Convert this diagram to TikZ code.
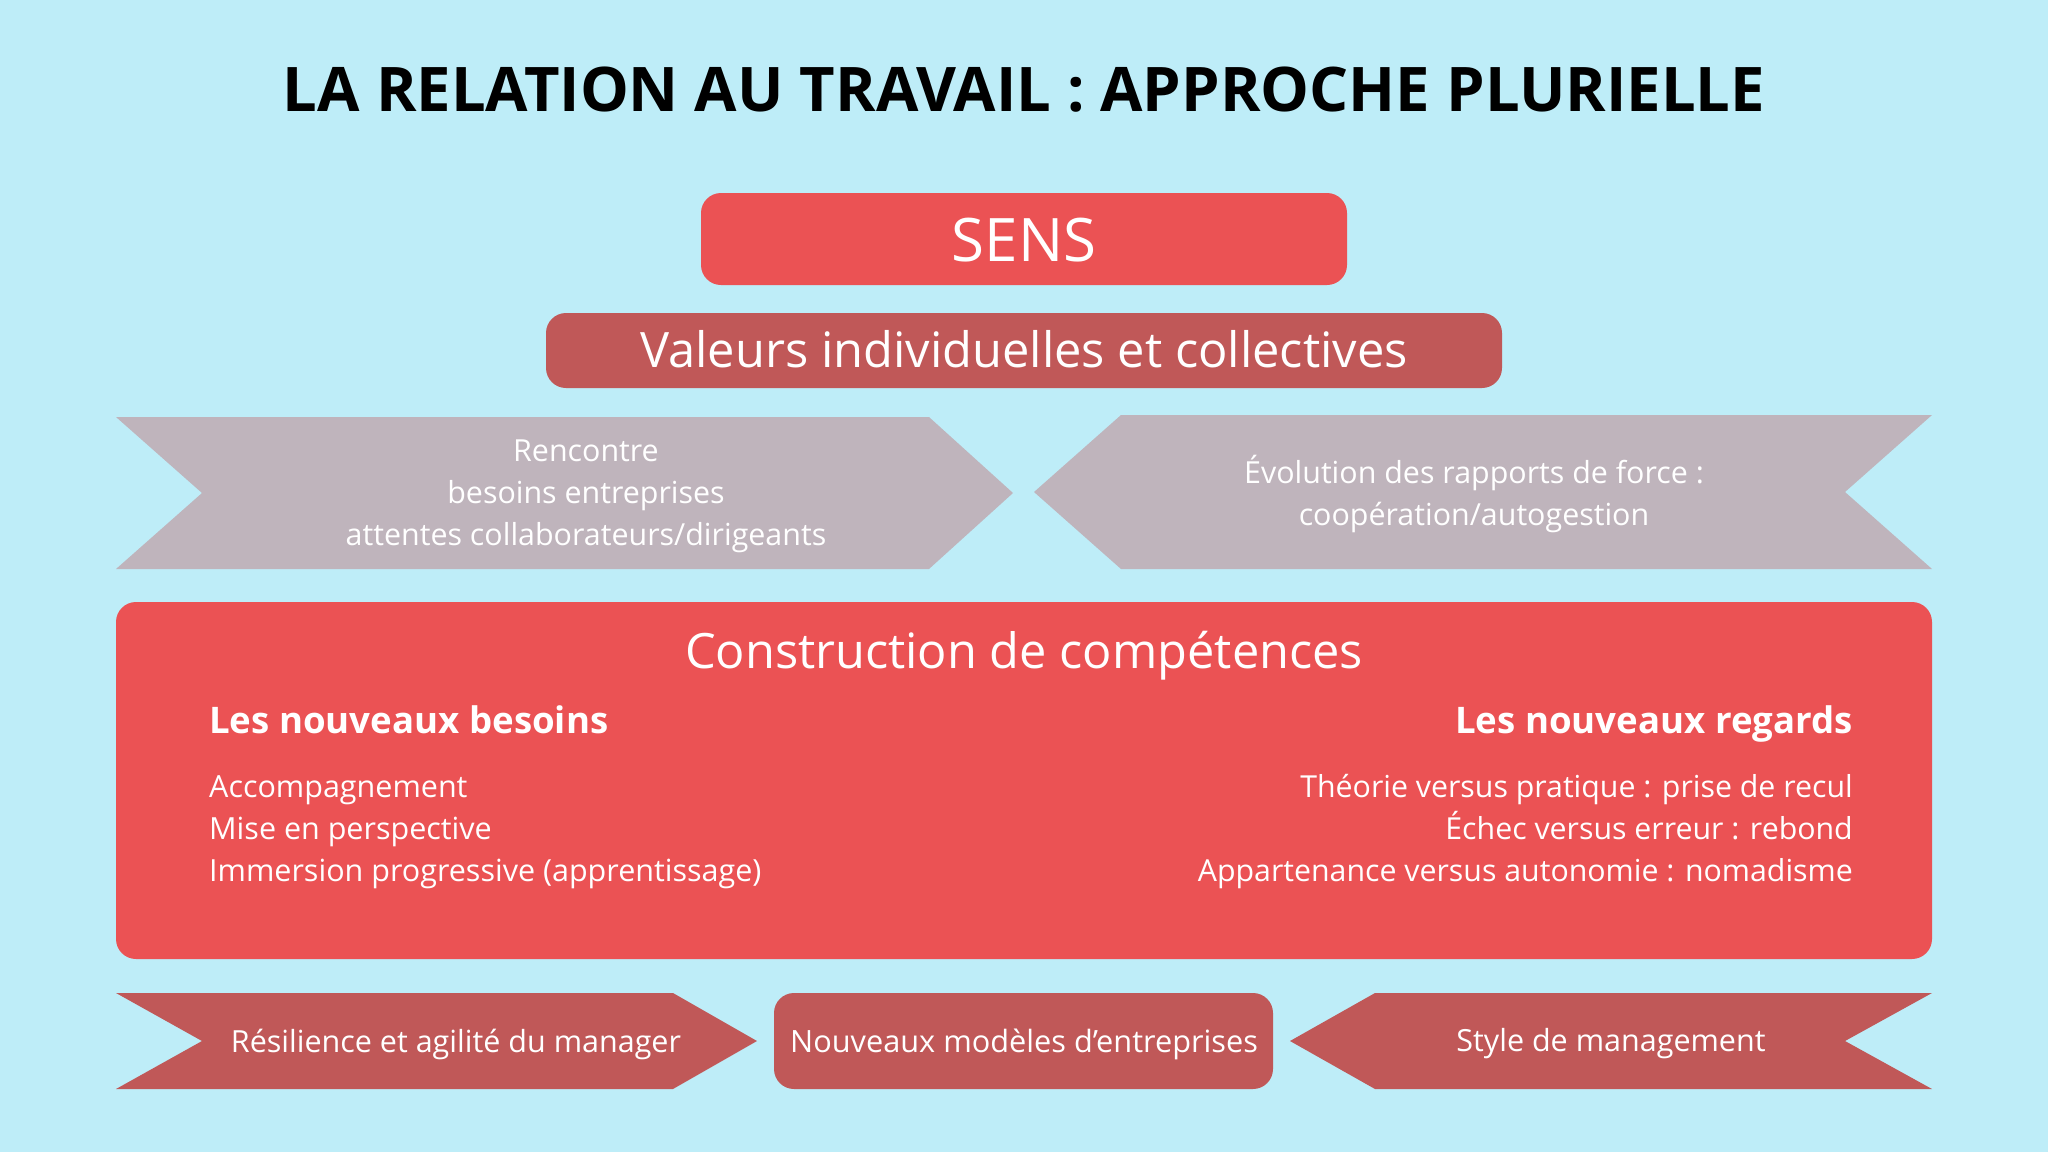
\documentclass[tikz,border=0pt]{standalone}
\usepackage{fontspec}
\setmainfont{Open Sans}
\definecolor{bg}{HTML}{BEEDF8}
\definecolor{redA}{HTML}{EB5254}
\definecolor{redB}{HTML}{C05858}
\definecolor{greyA}{HTML}{BFB4BC}
\newcommand{\fs}[2]{\fontsize{#1}{#2}\selectfont}
\begin{document}
\begin{tikzpicture}[x=1pt,y=-1pt,
  txt/.style={text=white,inner sep=0pt},
  rbox/.style={rounded corners=20pt}]
\fill[bg] (0,0) rectangle (2048,1152);
\useasboundingbox (0,0) rectangle (2048,1152);
% title
\node[inner sep=0pt,font=\fs{61.5}{74}\bfseries] (title) at (1024,90) {LA RELATION AU TRAVAIL : APPROCHE PLURIELLE};
% SENS
\fill[redA,rbox] (701,193) rectangle (1347,285);
\node[txt,font=\fs{60}{72}] (sens) at (1024,240) {SENS};
% Valeurs
\fill[redB,rbox] (546,313) rectangle (1502,388);
\node[txt,font=\fs{48.8}{58}] (valeurs) at (1024,349) {Valeurs individuelles et collectives};
% grey chevrons
\fill[greyA] (116,417) -- (929,417) -- (1013,493) -- (929,569) -- (116,569) -- (202,493) -- cycle;
\node[txt,align=center,font=\fs{30.4}{42}] (rencontre) at (586,496) {Rencontre\\besoins entreprises\\attentes collaborateurs/dirigeants};
\fill[greyA] (1034,492) -- (1121,415) -- (1932,415) -- (1845,492) -- (1932,569) -- (1121,569) -- cycle;
\node[txt,align=center,font=\fs{30.4}{42}] (evolution) at (1474,494) {Évolution des rapports de force :\\coopération/autogestion};
% big box
\fill[redA,rbox] (116,602) rectangle (1932,959);
\node[txt,font=\fs{48.7}{60}] (construction) at (1024,656) {Construction de compétences};
\node[txt,anchor=base west,font=\fs{36.6}{44}\bfseries] (besoins) at (209,733) {Les nouveaux besoins};
\node[txt,anchor=base east,font=\fs{36.6}{44}\bfseries] (regards) at (1853,733) {Les nouveaux regards};
\node[txt,anchor=west,align=left,font=\fs{30.5}{42}] (listL) at (209,832) {Accompagnement\\Mise en perspective\\Immersion progressive (apprentissage)};
\node[txt,anchor=east,align=right,font=\fs{30.3}{42}] (listR) at (1853,832) {Théorie versus pratique : prise de recul\\Échec versus erreur : rebond\\Appartenance versus autonomie : nomadisme};
% bottom row
\fill[redB] (116,993) -- (673,993) -- (757,1041) -- (673,1089) -- (116,1089) -- (202,1041) -- cycle;
\node[txt,font=\fs{30.5}{40}] (resilience) at (456,1044) {Résilience et agilité du manager};
\fill[redB,rbox] (774,993) rectangle (1273,1089);
\node[txt,font=\fs{30.7}{40}] (modeles) at (1024,1044) {Nouveaux modèles d’entreprises};
\fill[redB] (1290,1041) -- (1375,993) -- (1932,993) -- (1845,1041) -- (1932,1089) -- (1375,1089) -- cycle;
\node[txt,font=\fs{30.5}{40}] (style) at (1611,1044) {Style de management};
\end{tikzpicture}
\end{document}
